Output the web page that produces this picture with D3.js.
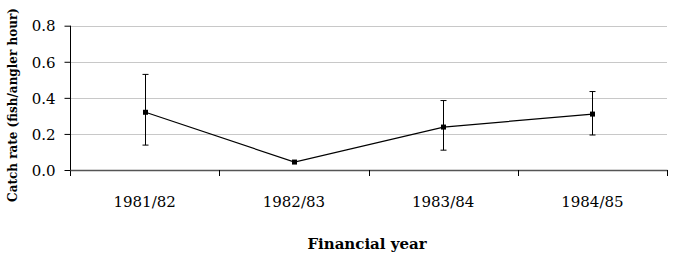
<!DOCTYPE html>
<html><head><meta charset="utf-8">
<script src="https://cdn.jsdelivr.net/npm/d3@7"></script>
<style>body{margin:0;background:#fff}svg{display:block}</style>
</head><body>
<svg id="c" width="675" height="258"></svg>
<script>
const categories = ["1981/82","1982/83","1983/84","1984/85"];
const values = [0.32, 0.044, 0.238, 0.31];
const upper = [0.53, 0.044, 0.385, 0.435];
const lower = [0.138, 0.044, 0.11, 0.194];
const yTicks = [0, 0.2, 0.4, 0.6, 0.8];

const svg = d3.select("#c");
const L = 70, R = 667, T = 25.7, B = 170;
const x = d3.scaleBand().domain(categories).range([L, R]);
const y = d3.scaleLinear().domain([0, 0.8]).range([B, T]);
const font = "'DejaVu Serif', serif";

// gridlines
svg.append("g").selectAll("line").data(yTicks.filter(d => d > 0)).join("line")
  .attr("x1", L).attr("x2", R)
  .attr("y1", d => Math.round(y(d)) + 0.5).attr("y2", d => Math.round(y(d)) + 0.5)
  .attr("stroke", "#c8c8c8").attr("stroke-width", 1);

// y axis
const ya = svg.append("g").attr("transform", `translate(${L + 0.5},0)`)
  .call(d3.axisLeft(y).tickValues(yTicks).tickFormat(d3.format(".1f")).tickSize(6).tickSizeOuter(0));
ya.select(".domain").remove();
ya.append("line").attr("x1", 0).attr("x2", 0).attr("y1", T).attr("y2", B + 6).attr("stroke", "#000");
ya.selectAll(".tick line").attr("stroke", "#000");
ya.selectAll(".tick text").attr("font-family", font).attr("font-size", 15).attr("fill", "#000").attr("x", -15).attr("dy", "0.35em");

// x axis
const xa = svg.append("g").attr("transform", `translate(0,${B})`)
  .call(d3.axisBottom(x).tickSize(0).tickSizeOuter(0));
xa.select(".domain").attr("stroke", "#555").attr("stroke-width", 1.5);
xa.selectAll(".tick text").attr("font-family", font).attr("font-size", 15).attr("fill", "#000").attr("y", 37).attr("dy", 0);
// category boundary ticks
const bounds = categories.map(c => x(c) + x.bandwidth());
xa.append("g").selectAll("line").data(bounds).join("line")
  .attr("x1", d => Math.round(d) + 0.5).attr("x2", d => Math.round(d) + 0.5)
  .attr("y1", 0).attr("y2", 6).attr("stroke", "#000");

const cx = c => x(c) + x.bandwidth() / 2;

// error bars
const eb = svg.append("g").attr("stroke", "#000").attr("stroke-width", 1);
categories.forEach((c, i) => {
  if (upper[i] - lower[i] < 0.001) return;
  const px = Math.round(cx(c)) + 0.5;
  eb.append("line").attr("x1", px).attr("x2", px).attr("y1", y(upper[i])).attr("y2", y(lower[i]));
  eb.append("line").attr("x1", px - 3).attr("x2", px + 3).attr("y1", y(upper[i])).attr("y2", y(upper[i]));
  eb.append("line").attr("x1", px - 3).attr("x2", px + 3).attr("y1", y(lower[i])).attr("y2", y(lower[i]));
});

// line
svg.append("path").datum(values)
  .attr("d", d3.line().x((d, i) => Math.round(cx(categories[i])) + 0.5).y(d => y(d)))
  .attr("fill", "none").attr("stroke", "#000").attr("stroke-width", 1.2);

// markers
svg.append("g").selectAll("rect").data(values).join("rect")
  .attr("x", (d, i) => Math.round(cx(categories[i])) + 0.5 - 2.5)
  .attr("y", d => y(d) - 2.5).attr("width", 5).attr("height", 5).attr("fill", "#000");

// axis titles
svg.append("text").attr("transform", `translate(17,105) rotate(-90)`)
  .attr("text-anchor", "middle").attr("font-family", font).attr("font-weight", "bold")
  .attr("font-size", 12).attr("fill", "#000").text("Catch rate (fish/angler hour)");
svg.append("text").attr("x", 367).attr("y", 249).attr("text-anchor", "middle")
  .attr("font-family", font).attr("font-weight", "bold").attr("font-size", 15).attr("fill", "#000")
  .text("Financial year");
</script>
</body></html>
